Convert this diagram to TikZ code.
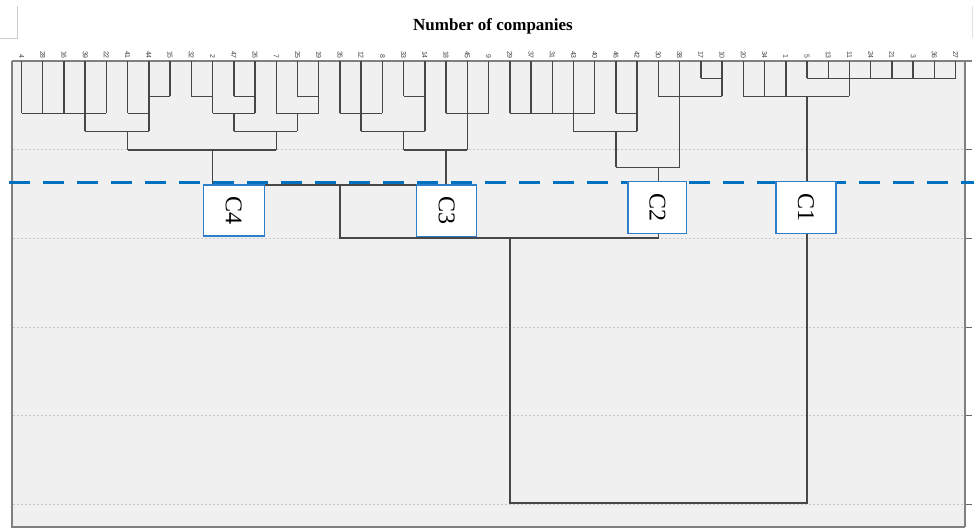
\documentclass[tikz,border=0pt]{standalone}
\usepackage{fontspec}
\setmainfont{Liberation Serif}
\newfontfamily\lblfont{Liberation Sans}
\begin{document}
\begin{tikzpicture}[x=1pt,y=-1pt,
  dend/.style={draw=black!72,line width=1.5pt},
  frameline/.style={draw=black!50,line width=1.3pt},
  gridl/.style={draw=black!22,line width=1pt,dash pattern=on 1.5pt off 2.5pt},
  cutline/.style={draw=cutblue,line width=3pt,dash pattern=on 21pt off 13pt},
  cbox/.style={draw=boxblue,line width=1.4pt,fill=white,inner sep=0pt,
     font=\fontsize{24}{24}\selectfont,rotate=-90},
  leaflbl/.style={font=\lblfont\fontsize{7}{7}\selectfont,text=black!75,
     rotate=-90,anchor=east,inner sep=0pt}]
\definecolor{cutblue}{RGB}{0,112,192}
\definecolor{boxblue}{RGB}{46,125,200}
\useasboundingbox (0,0) rectangle (974,529);
% faint crop artefacts
\draw[black!20,line width=0.8pt] (0,38.5) -- (17.3,38.5) -- (17.3,6);
\draw[black!12,line width=0.8pt] (972,6) -- (972,38);
% title
\node[font=\bfseries\fontsize{17}{17}\selectfont] (title) at (493,26) {Number of companies};
% plot area
\fill[black!6] (12,61) rectangle (965,527);
\foreach \g in {150,238.5,327,415.5,504}{
  \draw[gridl] (13,\g) -- (964,\g);
  \draw[black!60,line width=1pt] (965,\g) -- (972,\g);
}
\draw[frameline] (965,527) -- (12,527) -- (12,61);
\draw[frameline] (965,61) -- (965,527);
\draw[frameline] (12,61) -- (972,61);
% levels
\def\ya{78.5}\def\yb{96.5}\def\yc{113.5}\def\yd{131.5}\def\ye{150}\def\yf{167.3}
\newcommand{\X}[1]{{21.5+21.23*#1}}
% leaves: label and end level
\foreach \i/\t/\e in {0/4/\yc,1/28/\yc,2/16/\yc,3/39/\yd,4/22/\yc,5/41/\yc,6/44/\yd,
  7/15/\yb,8/32/\yb,9/2/\yc,10/47/\yb,11/26/\yc,12/7/\yc,13/25/\yb,14/19/\yc,
  15/35/\yc,16/12/\yd,17/8/\yc,18/33/\yb,19/14/\yd,20/18/\yc,21/45/\ye,22/9/\yc,
  23/29/\yc,24/37/\yc,25/31/\yc,26/43/\yd,27/40/\yc,28/46/\yc,29/42/\yd,
  30/30/\yb,31/38/\yf,32/17/\ya,33/10/\yb,34/20/\yb,35/34/\yb,36/1/\yb,
  37/5/\ya,38/13/\ya,39/11/\yb,40/24/\ya,41/21/\ya,42/3/\ya,43/36/\ya,44/27/\ya}{
  \coordinate (l\i) at (\X{\i},61);
  \node[leaflbl] (t\i) at (\X{\i},59) {\t};
  \draw[dend] (l\i) -- (\X{\i},\e);
}
% horizontal joins
\foreach \a/\b/\y in {6/7/\yb,8/9/\yb,10/11/\yb,13/14/\yb,18/19/\yb,30/33/\yb,34/39/\yb,
  32/33/\ya,37/44/\ya,
  0/4/\yc,5/6/\yc,9/11/\yc,12/14/\yc,15/17/\yc,20/22/\yc,23/27/\yc,28/29/\yc,
  3/6/\yd,10/13/\yd,16/19/\yd,26/29/\yd,
  5/12/\ye,18/21/\ye,28/31/\yf}{
  \draw[dend] (\X{\a},\y) -- (\X{\b},\y);
}
% inner verticals
\foreach \i/\p/\q in {10/\yc/\yd,13/\yc/\yd,5/\yd/\ye,12/\yd/\ye,18/\yd/\ye,28/\yd/\yf}{
  \draw[dend] (\X{\i},\p) -- (\X{\i},\q);
}
% cluster stems and higher links
\coordinate (s4) at (\X{9},\ye);
\coordinate (s3) at (\X{20},\ye);
\coordinate (s2) at (\X{30},\yf);
\coordinate (s1) at (\X{37},\yb);
\coordinate (j43a) at (\X{9},185);
\coordinate (j43b) at (\X{20},185);
\coordinate (j43) at (\X{15},185);
\coordinate (j432a) at (\X{15},238);
\coordinate (j432b) at (\X{30},238);
\coordinate (j432) at (\X{23},238);
\coordinate (rootl) at (\X{23},503);
\coordinate (rootr) at (\X{37},503);
\draw[dend] (s4) -- (j43a) -- (j43b) -- (s3);
\draw[dend] (j43) -- (j432a) -- (j432b) -- (s2);
\draw[dend] (j432) -- (rootl) -- (rootr) -- (s1);
% cut line
\draw[cutline] (9,183) -- (974,183);
% cluster boxes
\node[cbox,minimum width=51pt,minimum height=61pt] (C4) at (233.7,210.7) {C4};
\node[cbox,minimum width=51.5pt,minimum height=60pt] (C3) at (446.7,210.9) {C3};
\node[cbox,minimum width=51.6pt,minimum height=58.7pt] (C2) at (657.4,207.5) {C2};
\node[cbox,minimum width=51.6pt,minimum height=60pt] (C1) at (806,207.5) {C1};
\end{tikzpicture}
\end{document}
